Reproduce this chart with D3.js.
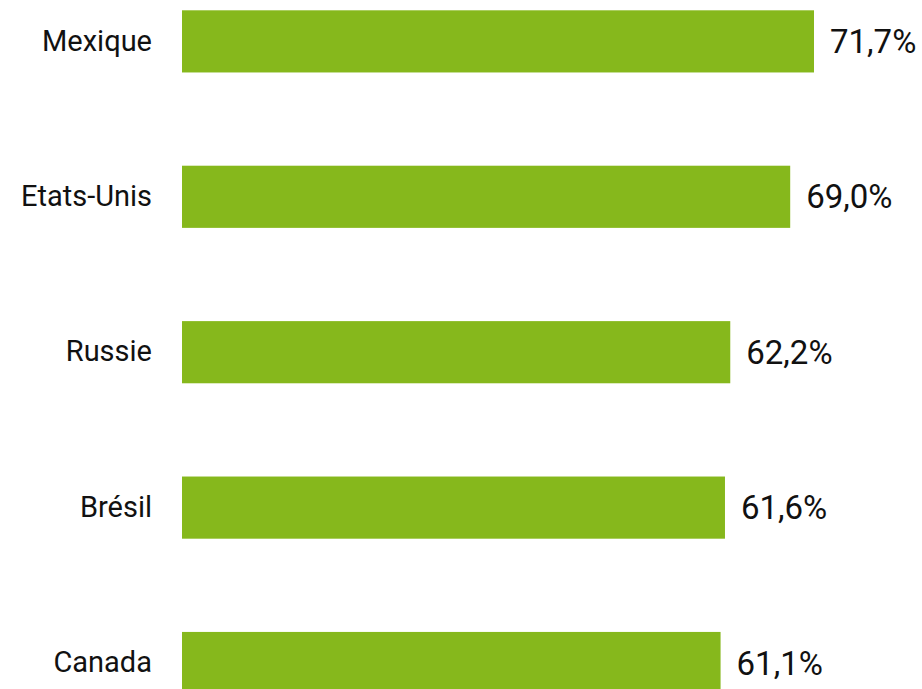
<!DOCTYPE html>
<html>
<head>
<meta charset="utf-8">
<script src="https://cdn.jsdelivr.net/npm/d3@7"></script>
<style>
  html, body { margin: 0; padding: 0; background: #fff; overflow: hidden; }
</style>
</head>
<body>
<svg id="chart"></svg>
<script>
// pays et taux (%)
const countries = ["Mexique", "Etats-Unis", "Russie", "Brésil", "Canada"];
const rates = [71.7, 69.0, 62.2, 61.6, 61.1];

const width = 922, height = 689;
const barLeft = 182;

const svg = d3.select("#chart")
    .attr("width", width)
    .attr("height", height)
    .attr("font-family", "Roboto, 'Liberation Sans', sans-serif");

// 71,7% -> 632px wide
const xScale = d3.scaleLinear([0, 71.7], [barLeft, 814]);
const yScale = d3.scaleBand(countries, [10.3, 694.1])
    .paddingInner(0.6)
    .paddingOuter(0);

const fmt = v => d3.format(".1f")(v).replace(".", ",") + "%";

const I = d3.range(countries.length);

svg.append("g")
   .selectAll("rect")
   .data(I)
   .join("rect")
   .attr("x", xScale(0))
   .attr("y", i => yScale(countries[i]))
   .attr("width", i => xScale(rates[i]) - xScale(0))
   .attr("height", yScale.bandwidth())
   .attr("fill", "#86b81c");

// country labels on the left
const yAxis = d3.axisLeft(yScale).tickSize(0).tickPadding(30);
svg.append("g")
   .attr("transform", `translate(${barLeft},0)`)
   .call(yAxis)
   .call(g => g.select(".domain").remove())
   .selectAll("text")
   .attr("font-size", 29)
   .attr("font-family", "Roboto, 'Liberation Sans', sans-serif")
   .attr("fill", "#111");

// value labels
svg.append("g")
   .selectAll("text")
   .data(I)
   .join("text")
   .attr("x", i => xScale(rates[i]) + 16)
   .attr("y", i => yScale(countries[i]) + yScale.bandwidth() / 2)
   .attr("dy", "0.35em")
   .attr("font-size", 33)
   .attr("fill", "#111")
   .text(i => fmt(rates[i]));
</script>
</body>
</html>
